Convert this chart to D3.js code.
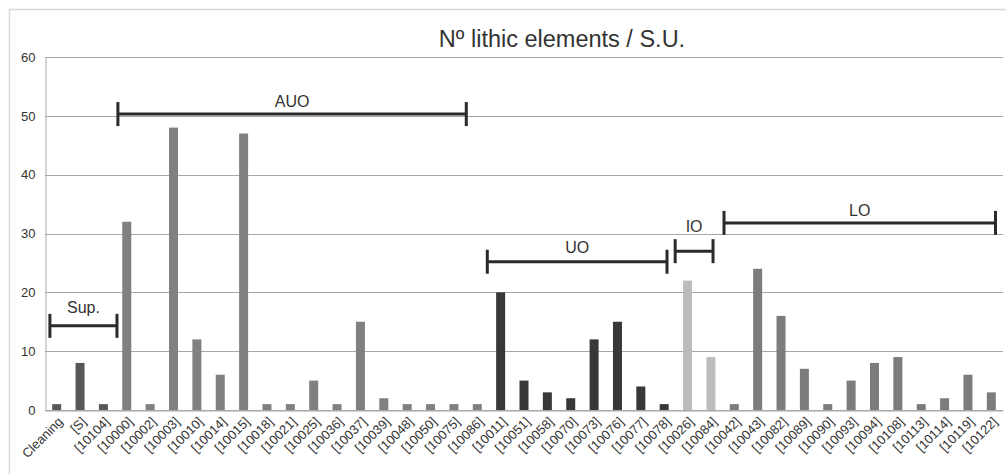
<!DOCTYPE html>
<html>
<head>
<meta charset="utf-8">
<script src="https://cdn.jsdelivr.net/npm/d3@7"></script>
<style>
  html, body { margin: 0; padding: 0; background: #fff; }
  svg { display: block; font-family: "Liberation Sans", Arial, sans-serif; }
</style>
</head>
<body>
<svg id="chart" width="1006" height="474"></svg>
<script>
const categories = ["Cleaning","[S]","[10104]","[10000]","[10002]","[10003]","[10010]","[10014]","[10015]","[10018]","[10021]","[10025]","[10036]","[10037]","[10039]","[10048]","[10050]","[10075]","[10086]","[10011]","[10051]","[10058]","[10070]","[10073]","[10076]","[10077]","[10078]","[10026]","[10084]","[10042]","[10043]","[10082]","[10089]","[10090]","[10093]","[10094]","[10108]","[10113]","[10114]","[10119]","[10122]"];
const values = [1,8,1,32,1,48,12,6,47,1,1,5,1,15,2,1,1,1,1,20,5,3,2,12,15,4,1,22,9,1,24,16,7,1,5,8,9,1,2,6,3];
const groups = ["Sup","Sup","Sup","AUO","AUO","AUO","AUO","AUO","AUO","AUO","AUO","AUO","AUO","AUO","AUO","AUO","AUO","AUO","AUO","UO","UO","UO","UO","UO","UO","UO","UO","IO","IO","LO","LO","LO","LO","LO","LO","LO","LO","LO","LO","LO","LO"];
const yTicks = [0,10,20,30,40,50,60];
// bracket annotations: start/end in category-band units, level in data units
const bracketLabels = ["Sup.","AUO","UO","IO","LO"];
const bracketStart = [0.21, 3.12, 18.93, 26.97, 29.06];
const bracketEnd = [3.08, 18.03, 26.62, 28.59, 40.68];
const bracketLevel = [14.3, 50.3, 25.2, 27.0, 31.8];
const title = "Nº lithic elements / S.U.";

const groupColor = {Sup: "#585858", AUO: "#808080", UO: "#383838", IO: "#bcbcbc", LO: "#7c7c7c"};
const labelLift = [13, 7, 9, 19, 7];

const svg = d3.select("#chart");
const margin = {left: 45, right: 3, top: 57, bottom: 64};
const W = 1006, H = 474;
const x0 = margin.left, x1 = W - margin.right;
const yTop = margin.top, yBot = H - margin.bottom;

// frame
svg.append("rect").attr("x", 9.5).attr("y", 9.5).attr("width", 1010).attr("height", 480)
  .attr("fill", "none").attr("stroke", "#d9d9d9").attr("stroke-width", 1.5);

const x = d3.scaleBand().domain(categories).range([x0, x1]).paddingInner(0).paddingOuter(0);
const step = x.step();
const xu = d3.scaleLinear().domain([0, categories.length]).range([x0, x1]);
const y = d3.scaleLinear().domain([0, 60]).range([yBot, yTop]);

// gridlines
svg.append("g").selectAll("line").data(yTicks).join("line")
  .attr("x1", x0).attr("x2", x1)
  .attr("y1", d => Math.round(y(d)) + 0.5).attr("y2", d => Math.round(y(d)) + 0.5)
  .attr("stroke", "#a8a8a8").attr("stroke-width", 1);

// y axis
const yAxis = d3.axisLeft(y).tickValues(yTicks).tickSize(0).tickPadding(10);
const gy = svg.append("g").attr("transform", `translate(${x0 + 0.5},0)`).call(yAxis);
gy.select(".domain").attr("stroke", "#a8a8a8");
gy.selectAll("text").attr("font-size", 13).attr("fill", "#333").attr("font-family", "Liberation Sans, Arial, sans-serif");

// bars
const bw = 9;
svg.append("g").selectAll("rect").data(categories).join("rect")
  .attr("x", d => x(d) + step / 2 - bw / 2)
  .attr("width", bw)
  .attr("y", (d, i) => y(values[i]))
  .attr("height", (d, i) => y(0) - y(values[i]))
  .attr("fill", (d, i) => groupColor[groups[i]]);

// x axis
const xAxis = d3.axisBottom(x).tickSize(0).tickPadding(0);
const gx = svg.append("g").attr("transform", `translate(0,${yBot + 0.5})`).call(xAxis);
gx.select(".domain").attr("stroke", "#a8a8a8");
gx.selectAll("text")
  .attr("font-size", 13).attr("fill", "#333").attr("font-family", "Liberation Sans, Arial, sans-serif")
  .attr("text-anchor", "end")
  .attr("dy", 0)
  .attr("transform", "translate(7,12) rotate(-45)");

// title
svg.append("text").attr("x", 562).attr("y", 47).attr("text-anchor", "middle")
  .attr("font-size", 23.5).attr("fill", "#333").text(title);

// brackets
const bg = svg.append("g");
bracketLabels.forEach((lab, i) => {
  const xa = xu(bracketStart[i]), xb = xu(bracketEnd[i]), yy = y(bracketLevel[i]);
  bg.append("line").attr("x1", xa).attr("x2", xb).attr("y1", yy).attr("y2", yy)
    .attr("stroke", "#2a2a2a").attr("stroke-width", 3);
  [xa, xb].forEach(xx => bg.append("line").attr("x1", xx).attr("x2", xx)
    .attr("y1", yy - 12).attr("y2", yy + 12).attr("stroke", "#2a2a2a").attr("stroke-width", 3));
  bg.append("text").attr("x", (xa + xb) / 2).attr("y", yy - labelLift[i]).attr("text-anchor", "middle")
    .attr("font-size", 16).attr("fill", "#333").text(lab);
});
</script>
</body>
</html>
